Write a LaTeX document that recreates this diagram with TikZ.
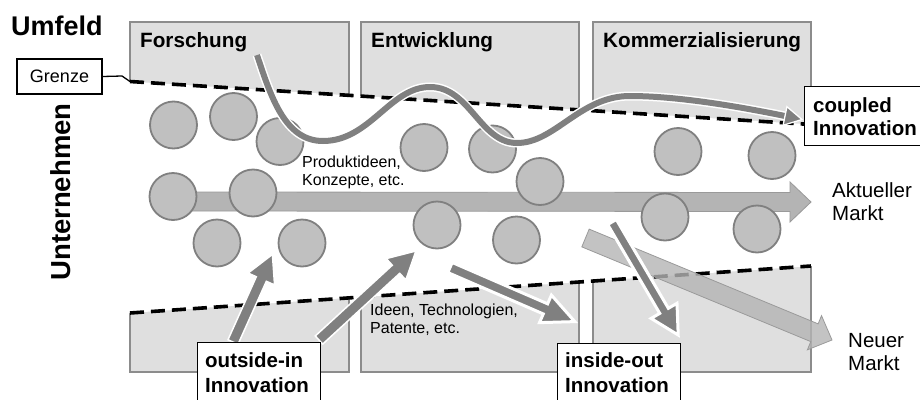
\documentclass[tikz,border=0pt]{standalone}
\usepackage{fontspec}
\setmainfont{Liberation Sans}
\usetikzlibrary{calc}
\definecolor{boxfill}{HTML}{DFDFDF}
\definecolor{boxline}{HTML}{8C8C8C}
\definecolor{circfill}{HTML}{C0C0C0}
\definecolor{circline}{HTML}{808080}
\definecolor{marrow}{HTML}{B4B4B4}
\definecolor{marrowline}{HTML}{9A9A9A}
\definecolor{darrow}{HTML}{808080}
\newcommand{\myfs}[1]{\fontsize{#1}{#1}\selectfont}
% fat arrow: options, start, end, shaft half width, head half width, head length
\newcommand{\fatarrow}[6]{%
  \coordinate (#3h) at ($(#3)!#6!(#2)$);
  \path[#1] ($(#2)!#4!90:(#3)$) -- ($(#3h)!#4!-90:(#2)$) -- ($(#3h)!#5!-90:(#2)$) -- (#3)
     -- ($(#3h)!#5!90:(#2)$) -- ($(#3h)!#4!90:(#2)$) -- ($(#2)!#4!-90:(#3)$) -- cycle;}
\newcommand{\coupledpath}{(cuS) .. controls (271,97) and (285,141) .. (323,141)
  .. controls (370,141) and (390,87) .. (430,87)
  .. controls (470,87) and (480,143) .. (517,143)
  .. controls (555,143) and (580,96) .. (630,96)
  .. controls (680,96) and (745,107.8) .. (cuH)}
\tikzset{
  topbox/.style={fill=boxfill, draw=boxline, line width=1.6pt},
  circ/.style={circle, fill=circfill, draw=circline, line width=1.8pt, minimum size=47pt, inner sep=0pt},
  bnd/.style={line width=3.6pt, dash pattern=on 14pt off 7pt},
  ibox/.style={draw=black, fill=white, line width=1.1pt, inner sep=0pt, anchor=north west},
  lbl/.style={inner sep=0pt, anchor=base west},
  phase/.style={lbl, font=\bfseries\myfs{20.7}},
  innov/.style={lbl, font=\bfseries\myfs{20.5}},
  small/.style={lbl, font=\myfs{16}},
  mkt/.style={lbl, font=\myfs{20.5}},
  darkarrow/.style={fill=darrow, draw=white, line join=miter},
  mktarrow/.style={fill=marrow, draw=marrowline, line width=0.8pt},
}
\begin{document}
\begin{tikzpicture}[x=1pt,y=-1pt]
\useasboundingbox (0,0) rectangle (920,399);
\clip (0,0) rectangle (920,399);
% phase boxes
\draw[topbox] (130,22) rectangle (349,140);
\draw[topbox] (361,22) rectangle (579,140);
\draw[topbox] (593,22) rectangle (811,140);
\draw[topbox] (130,250) rectangle (349,372);
\draw[topbox] (361,250) rectangle (579,372);
\draw[topbox] (593,250) rectangle (811,372);
% company area
\fill[white] (128,81.4) -- (813,124.6) -- (813,265.9) -- (128,313.1) -- cycle;
% boundaries
\draw[bnd] (130,81.5) -- (811,124.5);
\draw[bnd] (130,313) -- (811,266);
% current market arrow
\coordinate (akS) at (175,201.5);
\coordinate (akE) at (811,202);
\fatarrow{mktarrow}{akS}{akE}{9.5pt}{20pt}{21pt}
% ideas
\node[circ] (c1) at (173.5,125) {};
\node[circ] (c2) at (233.5,116.5) {};
\node[circ] (c3) at (280,141.5) {};
\node[circ] (c4) at (173,196.5) {};
\node[circ] (c5) at (253,193) {};
\node[circ] (c6) at (217,243) {};
\node[circ] (c7) at (302,243) {};
\node[circ] (c8) at (424,147.5) {};
\node[circ] (c9) at (492.5,149) {};
\node[circ] (c10) at (540,181.5) {};
\node[circ] (c11) at (437,225) {};
\node[circ] (c12) at (516.5,240) {};
\node[circ] (c13) at (678,151.5) {};
\node[circ] (c14) at (772,155.5) {};
\node[circ] (c15) at (665,217) {};
\node[circ] (c16) at (757,229) {};
% new market arrow
\coordinate (nmS) at (585.5,238);
\coordinate (nmE) at (832,340);
\fatarrow{mktarrow, fill opacity=0.8}{nmS}{nmE}{9.6pt}{18.5pt}{19pt}
% inside-out arrows
\coordinate (io1S) at (450,267.5);
\coordinate (io1E) at (574.8,321.6);
\fatarrow{darkarrow, line width=3pt}{io1S}{io1E}{5.5pt}{15pt}{32pt}
\coordinate (io2S) at (612,222);
\coordinate (io2E) at (678.2,335);
\fatarrow{darkarrow, line width=3pt}{io2S}{io2E}{5pt}{15pt}{28pt}
% outside-in arrows
\coordinate (oi1S) at (233,342);
\coordinate (oi1E) at (272.4,254.4);
\fatarrow{darkarrow, line width=1.5pt}{oi1S}{oi1E}{5.5pt}{14.5pt}{27pt}
\coordinate (oi2S) at (319,340);
\coordinate (oi2E) at (415.9,251);
\fatarrow{darkarrow, line width=1.5pt}{oi2S}{oi2E}{5.5pt}{14.5pt}{27pt}
% coupled innovation curve
\coordinate (cuS) at (257,55);
\coordinate (cuH) at (785,116);
\coordinate (cuT) at (802,119.5);
\draw[white, line width=9pt] \coupledpath;
\draw[darrow, line width=6pt] \coupledpath;
\path[fill=darrow, draw=white, line width=1.3pt] ($(cuH)!9.5pt!90:(cuT)$) -- (cuT) -- ($(cuH)!9.5pt!-90:(cuT)$) -- cycle;
% labels
\node[lbl, font=\bfseries\myfs{27}] (umfeld) at (11,35) {Umfeld};
\node[inner sep=0pt, anchor=base, rotate=90, font=\bfseries\myfs{27.5}] (unternehmen) at (70,192) {Unternehmen};
\node[draw=black, line width=1.4pt, minimum width=85pt, minimum height=35pt, inner sep=0pt, font=\myfs{18}] (grenze) at (59.5,76.5) {Grenze};
\draw[line width=1.3pt] (grenze.east) -- (122,76) -- (130,81.5);
\node[phase] (forschung) at (140,47) {Forschung};
\node[phase] (entwicklung) at (371,47) {Entwicklung};
\node[phase] (kommerz) at (603,47) {Kommerzialisierung};
\node[small] (pi1) at (302,167) {Produktideen,};
\node[small] (pi2) at (302,185) {Konzepte, etc.};
\node[small] (it1) at (370,315) {Ideen, Technologien,};
\node[small] (it2) at (370,333) {Patente, etc.};
\node[mkt] (ak1) at (832,197) {Aktueller};
\node[mkt] (ak2) at (832,220) {Markt};
\node[mkt] (nm1) at (848,347) {Neuer};
\node[mkt] (nm2) at (848,370) {Markt};
% innovation boxes
\node[ibox, minimum width=126pt, minimum height=59pt] (cibox) at (804,86) {};
\node[innov] (ci1) at (813,112) {coupled};
\node[innov] (ci2) at (813,135) {Innovation};
\node[ibox, minimum width=123pt, minimum height=70pt] (oibox) at (197,342) {};
\node[innov] (oit1) at (205,367) {outside-in};
\node[innov] (oit2) at (205,392) {Innovation};
\node[ibox, minimum width=123pt, minimum height=70pt] (iobox) at (557,343) {};
\node[innov] (iot1) at (565,367) {inside-out};
\node[innov] (iot2) at (565,392) {Innovation};
\end{tikzpicture}
\end{document}
